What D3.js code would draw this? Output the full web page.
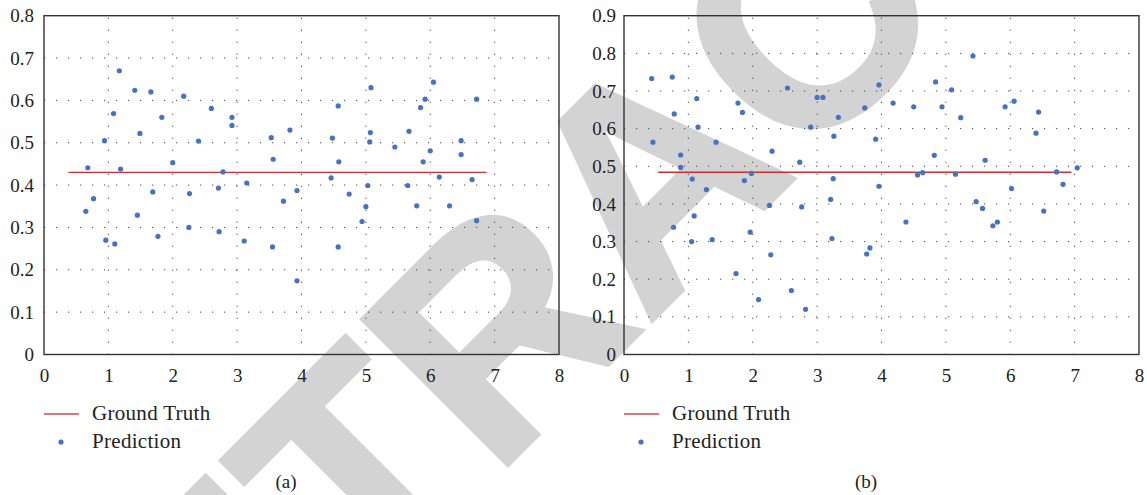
<!DOCTYPE html>
<html>
<head>
<meta charset="utf-8">
<script src="https://cdn.jsdelivr.net/npm/d3@7"></script>
<style>
  body { margin: 0; background: #fff; }
  text { font-family: "Liberation Serif", "DejaVu Serif", serif; fill: #222; }
</style>
</head>
<body>
<svg id="chart" width="1147" height="495"></svg>
<script>
// Panel (a) predictions
const predXA = [0.68, 0.65, 0.77, 0.94, 0.96, 1.08, 1.10, 1.17, 1.19, 1.41, 1.49, 1.45, 1.66, 1.69, 1.77, 1.83, 2.00, 2.17, 2.26, 2.25, 2.40,
  2.60, 2.92, 2.92, 2.78, 2.71, 2.72, 3.15, 3.11, 3.53, 3.56, 3.55, 3.82, 3.72, 3.93, 3.93, 4.57, 4.48, 4.58, 4.46, 4.74, 4.57,
  5.08, 5.07, 5.06, 5.03, 5.00, 4.94, 5.45, 5.67, 5.65, 5.79, 5.85, 5.92, 5.89, 6.00, 6.05, 6.14, 6.30, 6.48, 6.48, 6.65, 6.72, 6.72];
const predYA = [0.441, 0.338, 0.368, 0.505, 0.270, 0.569, 0.261, 0.670, 0.438, 0.624, 0.522, 0.329, 0.620, 0.384, 0.279, 0.560, 0.453, 0.610, 0.380, 0.300, 0.504,
  0.581, 0.560, 0.541, 0.431, 0.393, 0.290, 0.405, 0.268, 0.512, 0.461, 0.254, 0.530, 0.362, 0.387, 0.174, 0.587, 0.511, 0.455, 0.417, 0.379, 0.254,
  0.630, 0.524, 0.502, 0.399, 0.349, 0.314, 0.490, 0.527, 0.399, 0.351, 0.583, 0.603, 0.455, 0.481, 0.643, 0.419, 0.351, 0.505, 0.472, 0.413, 0.603, 0.316];

// Panel (b) predictions
const predXB = [0.43, 0.75, 0.45, 0.78, 0.88, 0.88, 0.77, 1.13, 1.15, 1.06, 1.09, 1.05, 1.28, 1.37, 1.43, 1.77, 1.84, 1.74, 1.87, 1.98, 1.96, 2.09, 2.30, 2.26, 2.28, 2.54,
  2.60, 2.82, 2.73, 2.76, 2.90, 3.00, 3.09, 3.26, 3.33, 3.25, 3.21, 3.23, 3.74, 3.96, 3.91, 3.96, 3.82, 3.77, 4.18, 4.50, 4.38, 4.56, 4.64, 4.84, 4.82, 4.94, 5.09, 5.23, 5.15,
  5.42, 5.61, 5.47, 5.57, 5.80, 5.73, 5.92, 6.06, 6.02, 6.44, 6.40, 6.52, 6.72, 6.82, 7.04];
const predYB = [0.733, 0.737, 0.564, 0.639, 0.530, 0.497, 0.338, 0.680, 0.604, 0.466, 0.368, 0.300, 0.438, 0.305, 0.564, 0.668, 0.643, 0.215, 0.462, 0.481, 0.325, 0.146, 0.540, 0.396, 0.265, 0.708,
  0.170, 0.120, 0.511, 0.392, 0.604, 0.683, 0.683, 0.580, 0.630, 0.467, 0.412, 0.308, 0.655, 0.716, 0.572, 0.447, 0.283, 0.267, 0.668, 0.658, 0.352, 0.477, 0.483, 0.724, 0.529, 0.658, 0.703, 0.629, 0.479,
  0.793, 0.516, 0.406, 0.388, 0.352, 0.342, 0.658, 0.673, 0.441, 0.644, 0.588, 0.381, 0.485, 0.452, 0.496];

// Ground truth lines: value and x extent
const truthA = 0.43, truthSpanA = [0.38, 6.87];
const truthB = 0.484, truthSpanB = [0.53, 6.95];

// Tick values
const xTicks = [0, 1, 2, 3, 4, 5, 6, 7, 8];
const yTicksA = [0, 0.1, 0.2, 0.3, 0.4, 0.5, 0.6, 0.7, 0.8];
const yTicksB = [0, 0.1, 0.2, 0.3, 0.4, 0.5, 0.6, 0.7, 0.8, 0.9];

const blue = "#4472c4";
const red = "#d42a30";

const svg = d3.select("#chart");

// Watermark behind everything
svg.append("text")
  .attr("transform", "translate(650,176) rotate(-45)")
  .attr("text-anchor", "middle")
  .attr("dominant-baseline", "central")
  .style("font-family", "'Liberation Sans', Arial, sans-serif")
  .style("font-weight", "bold")
  .style("font-size", "300px")
  .style("fill", "#d3d3d3")
  .style("stroke", "#d3d3d3")
  .style("stroke-width", 4)
  .text("RETRACTED");

function drawPanel(opts) {
  const { left, right, top, bottom, yMax, yTicks, xs, ys, truth, span, label, labelX, yPad } = opts;
  const x = d3.scaleLinear().domain([0, 8]).range([left, right]);
  const y = d3.scaleLinear().domain([0, yMax]).range([bottom, top]);
  const g = svg.append("g");

  // dotted grid
  g.selectAll(".vgrid")
    .data(xTicks.slice(1, -1))
    .enter()
    .append("line")
    .attr("x1", (d) => x(d)).attr("x2", (d) => x(d))
    .attr("y1", top).attr("y2", bottom)
    .attr("stroke", "#444")
    .attr("stroke-width", 1)
    .attr("stroke-dasharray", "1.2 10.8")
    .attr("stroke-dashoffset", -2);

  g.selectAll(".hgrid")
    .data(yTicks.slice(1, -1))
    .enter()
    .append("line")
    .attr("x1", left).attr("x2", right)
    .attr("y1", (d) => y(d)).attr("y2", (d) => y(d))
    .attr("stroke", "#444")
    .attr("stroke-width", 1)
    .attr("stroke-dasharray", "1.2 10.8")
    .attr("stroke-dashoffset", -12);

  // ground truth
  g.append("line")
    .attr("x1", x(span[0])).attr("x2", x(span[1]))
    .attr("y1", y(truth)).attr("y2", y(truth))
    .attr("stroke", red)
    .attr("stroke-width", 1.4);

  // predictions
  g.selectAll(".dot")
    .data(xs.map((v, i) => [v, ys[i]]))
    .enter()
    .append("circle")
    .attr("cx", (d) => x(d[0]))
    .attr("cy", (d) => y(d[1]))
    .attr("r", 2.6)
    .attr("fill", blue);

  // frame
  g.append("rect")
    .attr("x", left).attr("y", top)
    .attr("width", right - left).attr("height", bottom - top)
    .attr("fill", "none")
    .attr("stroke", "#333")
    .attr("stroke-width", 1.4);

  // axes
  const xAxis = g.append("g")
    .attr("transform", `translate(0,${bottom})`)
    .call(d3.axisBottom(x).tickValues(xTicks).tickFormat(d3.format("d")).tickSize(0).tickPadding(14));
  const yAxis = g.append("g")
    .attr("transform", `translate(${left},0)`)
    .call(d3.axisLeft(y).tickValues(yTicks).tickFormat((d) => (d === 0 ? "0" : d3.format(".1f")(d))).tickSize(0).tickPadding(yPad));
  [xAxis, yAxis].forEach((a) => {
    a.select(".domain").remove();
    a.selectAll("text")
      .style("font-family", "'Liberation Serif', serif")
      .style("font-size", "19px")
      .attr("fill", "#222");
  });

  // legend
  g.append("line")
    .attr("x1", left).attr("x2", left + 35)
    .attr("y1", 414).attr("y2", 414)
    .attr("stroke", "#d9474d")
    .attr("stroke-width", 1.6);
  g.append("text")
    .attr("x", left + 48).attr("y", 420)
    .style("font-size", "21px")
    .style("letter-spacing", "0.3px")
    .text("Ground Truth");
  g.append("circle")
    .attr("cx", left + 17).attr("cy", 442)
    .attr("r", 2.6)
    .attr("fill", blue);
  g.append("text")
    .attr("x", left + 48).attr("y", 448)
    .style("font-size", "21px")
    .style("letter-spacing", "0.3px")
    .text("Prediction");

  // panel label
  g.append("text")
    .attr("x", labelX).attr("y", 488)
    .attr("text-anchor", "middle")
    .style("font-size", "19px")
    .text(label);
}

drawPanel({ left: 44, right: 559, top: 15.7, bottom: 354.5, yMax: 0.8, yTicks: yTicksA,
  xs: predXA, ys: predYA, truth: truthA, span: truthSpanA, label: "(a)", labelX: 286, yPad: 10 });
drawPanel({ left: 624, right: 1139, top: 15.7, bottom: 354.5, yMax: 0.9, yTicks: yTicksB,
  xs: predXB, ys: predYB, truth: truthB, span: truthSpanB, label: "(b)", labelX: 866, yPad: 8 });
</script>
</body>
</html>
